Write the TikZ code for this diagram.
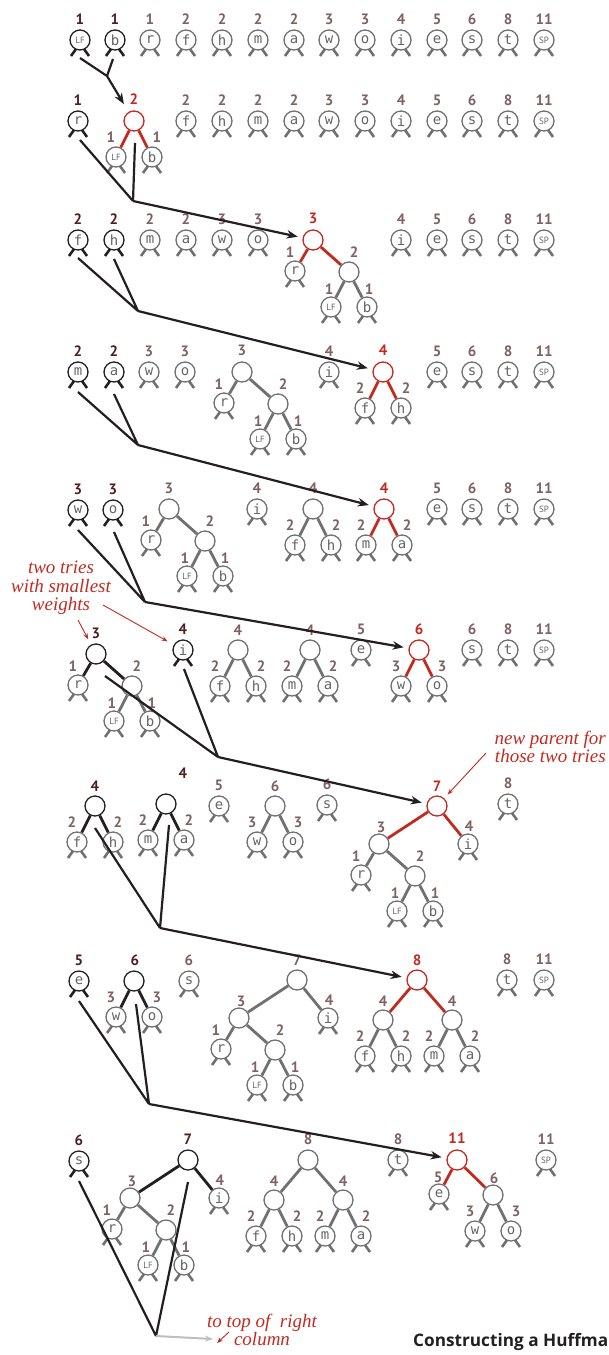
\documentclass[tikz,border=0pt]{standalone}
\usepackage{fontspec}
\setmainfont{Liberation Serif}
\newfontfamily\wfont{PT Sans}
\newfontfamily\tfont{Open Sans}
\newfontfamily\mfont{DejaVu Sans Mono}
\usetikzlibrary{calc,arrows.meta}
\definecolor{cg}{RGB}{112,112,112}
\definecolor{ck}{RGB}{35,31,32}
\definecolor{cr}{RGB}{194,42,32}
\definecolor{wg}{RGB}{128,96,96}
\definecolor{wk}{RGB}{78,30,30}
\definecolor{wr}{RGB}{194,42,32}
\definecolor{tg}{RGB}{100,100,100}
\definecolor{lgray}{RGB}{190,190,190}
\newcounter{wcnt}
\tikzset{
  nd/.style={circle,draw=cg,line width=1.3pt,minimum size=20pt,inner sep=0pt,text=tg,font=\mfont\fontsize{14}{14}\selectfont},
  leg/.style={line width=2.6pt},
  ed/.style={line width=2.8pt},
  wt/.style={inner sep=0pt,font=\wfont\bfseries\fontsize{15}{15}\selectfont},
  conn/.style={draw=ck,line width=2.2pt},
  cnarrow/.style={conn,-{Stealth[length=11pt,width=8.5pt]},shorten >=5pt},
  note/.style={text=cr,font=\itshape\fontsize{19}{18.5}\selectfont,align=center,inner sep=0pt},
  narrow/.style={draw=cr,line width=0.9pt,-{Stealth[length=6pt,width=4.5pt]}},
}
\newcommand\lfl{{\wfont\fontsize{9}{9}\selectfont LF}}
\newcommand\spl{{\wfont\fontsize{9}{9}\selectfont SP}}
\newcommand\lfn[4]{%
  \node[nd,draw=c#4] (#1) at (#2) {#3};
  \draw[leg,draw=c#4] ($(#1)+(-4,9)$) -- ++(-5,7) ($(#1)+(4,9)$) -- ++(5,7);}
\newcommand\inod[3]{\node[nd,draw=c#3] (#1) at (#2) {};}
\newcommand\wgt[3]{\stepcounter{wcnt}\edef\wnm{wt\arabic{wcnt}}%
  \node[wt,text=w#3] (\wnm) at (#1) {#2};}
\newcommand\lw[5]{\lfn{#1}{#2}{#3}{#5}\wgt{$(#1)+(0,-21)$}{#4}{#5}}
\newcommand\ttree[3]{%
  \inod{#1}{#2}{#3}
  \lfn{#1r}{$(#1)+(-18,31)$}{r}{g}
  \inod{#1n}{$(#1)+(36,32)$}{g}
  \lfn{#1l}{$(#1n)+(-18,35)$}{\lfl}{g}
  \lfn{#1b}{$(#1n)+(18,35)$}{b}{g}
  \draw[ed,draw=c#3] (#1)--(#1r) (#1)--(#1n);
  \draw[ed,draw=cg] (#1n)--(#1l) (#1n)--(#1b);
  \wgt{$(#1r)+(-5,-19)$}{1}{g}
  \wgt{$(#1n)+(5,-20)$}{2}{g}
  \wgt{$(#1l)+(-2,-18)$}{1}{g}
  \wgt{$(#1b)+(2,-18)$}{1}{g}}
\newcommand\ptree[6]{%
  \inod{#1}{#2}{#3}
  \lfn{#1l}{$(#1)+(-18,36)$}{#4}{g}
  \lfn{#1r}{$(#1)+(18,36)$}{#5}{g}
  \draw[ed,draw=c#3] (#1)--(#1l) (#1)--(#1r);
  \wgt{$(#1l)+(-5,-20)$}{#6}{g}
  \wgt{$(#1r)+(5,-20)$}{#6}{g}}
\newcommand\stree[3]{%
  \inod{#1}{#2}{#3}
  \ttree{#1t}{$(#1)+(-58,38)$}{g}
  \lfn{#1i}{$(#1)+(31,38)$}{i}{g}
  \draw[ed,draw=c#3] (#1)--(#1t) (#1)--(#1i);
  \wgt{$(#1t)+(2,-17)$}{3}{g}
  \wgt{$(#1i)+(1,-18)$}{4}{g}}
\newcommand\etree[3]{%
  \inod{#1}{#2}{#3}
  \ptree{#1a}{$(#1)+(-34,40)$}{g}{f}{h}{2}
  \ptree{#1b}{$(#1)+(35,40)$}{g}{m}{a}{2}
  \draw[ed,draw=c#3] (#1)--(#1a) (#1)--(#1b);
  \wgt{$(#1a)+(0,-19)$}{4}{g}
  \wgt{$(#1b)+(0,-19)$}{4}{g}}
\newcommand\eltree[3]{%
  \inod{#1}{#2}{#3}
  \lfn{#1e}{$(#1)+(-18,34)$}{e}{g}
  \ptree{#1s}{$(#1)+(36,35)$}{g}{w}{o}{3}
  \draw[ed,draw=c#3] (#1)--(#1e) (#1)--(#1s);
  \wgt{$(#1e)+(-1,-17)$}{5}{g}
  \wgt{$(#1s)+(1,-17)$}{6}{g}}
\begin{document}
\begin{tikzpicture}[x=1pt,y=-1pt]
\useasboundingbox (0,0) rectangle (609,1355);
% ---------- Row 1
\lw{L1}{80,40}{\lfl}{1}{k}
\lw{b1}{115,40}{b}{1}{k}
\lw{r1}{150,40}{r}{1}{g}
\lw{f1}{186,40}{f}{2}{g}
\lw{h1}{222,40}{h}{2}{g}
\lw{m1}{258,40}{m}{2}{g}
\lw{a1}{294,40}{a}{2}{g}
\lw{w1}{329,40}{w}{3}{g}
\lw{o1}{365,40}{o}{3}{g}
\lw{i1}{401,40}{i}{4}{g}
\lw{e1}{437,40}{e}{5}{g}
\lw{s1}{472,40}{s}{6}{g}
\lw{t1}{508,40}{t}{8}{g}
\lw{sp1}{544,40}{\spl}{11}{g}
% ---------- Row 2
\lw{r2}{78,121}{r}{1}{k}
\ptree{R2}{134,121}{r}{\lfl}{b}{1}
\wgt{$(R2)+(0,-22)$}{2}{r}
\lw{f2}{186,121}{f}{2}{g}
\lw{h2}{222,121}{h}{2}{g}
\lw{m2}{258,121}{m}{2}{g}
\lw{a2}{294,121}{a}{2}{g}
\lw{w2}{329,121}{w}{3}{g}
\lw{o2}{365,121}{o}{3}{g}
\lw{i2}{401,121}{i}{4}{g}
\lw{e2}{437,121}{e}{5}{g}
\lw{s2}{472,121}{s}{6}{g}
\lw{t2}{508,121}{t}{8}{g}
\lw{sp2}{544,121}{\spl}{11}{g}
% ---------- Row 3
\lw{f3}{78,240}{f}{2}{k}
\lw{h3}{114,240}{h}{2}{k}
\lw{m3}{150,240}{m}{2}{g}
\lw{a3}{186,240}{a}{2}{g}
\lw{w3}{222,240}{w}{3}{g}
\lw{o3}{258,240}{o}{3}{g}
\ttree{R3}{313,240}{r}
\wgt{$(R3)+(0,-22)$}{3}{r}
\lw{i3}{401,240}{i}{4}{g}
\lw{e3}{437,240}{e}{5}{g}
\lw{s3}{472,240}{s}{6}{g}
\lw{t3}{508,240}{t}{8}{g}
\lw{sp3}{544,240}{\spl}{11}{g}
% ---------- Row 4
\lw{m4}{78,372}{m}{2}{k}
\lw{a4}{114,372}{a}{2}{k}
\lw{w4}{149,372}{w}{3}{g}
\lw{o4}{185,372}{o}{3}{g}
\ttree{T4}{242,372}{g}
\wgt{$(T4)+(0,-22)$}{3}{g}
\lw{i4}{329,372}{i}{4}{g}
\ptree{R4}{383,372}{r}{f}{h}{2}
\wgt{$(R4)+(0,-22)$}{4}{r}
\lw{e4}{437,372}{e}{5}{g}
\lw{s4}{472,372}{s}{6}{g}
\lw{t4}{508,372}{t}{8}{g}
\lw{sp4}{544,372}{\spl}{11}{g}
% ---------- Row 5
\lw{w5}{78,510}{w}{3}{k}
\lw{o5}{113,510}{o}{3}{k}
\ttree{T5}{169,509}{g}
\wgt{$(T5)+(0,-21)$}{3}{g}
\lw{i5}{257,509}{i}{4}{g}
\ptree{P5}{313,509}{g}{f}{h}{2}
\wgt{$(P5)+(0,-21)$}{4}{g}
\ptree{R5}{384,509}{r}{m}{a}{2}
\wgt{$(R5)+(0,-21)$}{4}{r}
\lw{e5}{437,509}{e}{5}{g}
\lw{s5}{472,509}{s}{6}{g}
\lw{t5}{508,509}{t}{8}{g}
\lw{sp5}{544,509}{\spl}{11}{g}
% ---------- Row 6
\ttree{T6}{96,654}{k}
\wgt{$(T6)+(0,-21)$}{3}{k}
\lw{i6}{183,650}{i}{4}{k}
\ptree{P6a}{238,650}{g}{f}{h}{2}
\wgt{$(P6a)+(0,-20)$}{4}{g}
\ptree{P6b}{310,650}{g}{m}{a}{2}
\wgt{$(P6b)+(0,-20)$}{4}{g}
\lw{e6}{361,650}{e}{5}{g}
\ptree{R6}{419,650}{r}{w}{o}{3}
\wgt{$(R6)+(0,-21)$}{6}{r}
\lw{s6}{472,650}{s}{6}{g}
\lw{t6}{508,650}{t}{8}{g}
\lw{sp6}{544,650}{\spl}{11}{g}
% ---------- Row 7
\ptree{P7a}{95,806}{k}{f}{h}{2}
\wgt{$(P7a)+(0,-20)$}{4}{k}
\ptree{P7b}{166,804}{k}{m}{a}{2}
\wgt{183,773}{4}{k}
\lw{e7}{219,806}{e}{5}{g}
\ptree{P7c}{275,806}{g}{w}{o}{3}
\wgt{$(P7c)+(0,-20)$}{6}{g}
\lw{s7}{327,805}{s}{6}{g}
\stree{R7}{437,806}{r}
\wgt{$(R7)+(0,-20)$}{7}{r}
\lw{t7}{508,804}{t}{8}{g}
% ---------- Row 8
\lw{e8}{79,981}{e}{5}{k}
\ptree{P8}{134,981}{k}{w}{o}{3}
\wgt{$(P8)+(1,-21)$}{6}{k}
\lw{s8}{189,981}{s}{6}{g}
\stree{S8}{297,980}{g}
\wgt{$(S8)+(0,-20)$}{7}{g}
\etree{R8}{417,980}{r}
\wgt{$(R8)+(0,-20)$}{8}{r}
\lw{t8}{507,980}{t}{8}{g}
\lw{sp8}{544,980}{\spl}{11}{g}
% ---------- Row 9
\lw{s9}{79,1161}{s}{6}{k}
\stree{S9}{188,1160}{k}
\wgt{$(S9)+(0,-21)$}{7}{k}
\etree{E9}{308,1160}{g}
\wgt{$(E9)+(0,-21)$}{8}{g}
\lw{t9}{398,1160}{t}{8}{g}
\eltree{R9}{457,1160}{r}
\wgt{$(R9)+(0,-22)$}{11}{r}
\lw{sp9}{546,1160}{\spl}{11}{g}
% ---------- connectors
\coordinate (j1) at (107,76);
\draw[conn] ($(L1)+(0,18)$) -- (j1) ($(b1)+(-2,19)$) -- (j1);
\draw[cnarrow,shorten >=9pt] (j1) -- (R2);
\coordinate (j2) at (133,201);
\draw[conn] ($(r2)+(2,19)$) -- (j2) ($(R2)+(1,22)$) -- (j2);
\draw[cnarrow] (j2) -- (R3);
\coordinate (j3) at (138,311);
\draw[conn] ($(f3)+(0,18)$) -- (j3) ($(h3)+(0,19)$) -- (j3);
\draw[cnarrow] (j3) -- (R4);
\coordinate (j4) at (138,445);
\draw[conn] ($(m4)+(0,20)$) -- (j4) ($(a4)+(0,22)$) -- (j4);
\draw[cnarrow] (j4) -- (R5);
\coordinate (j5) at (145,602);
\draw[conn] ($(w5)+(0,20)$) -- (j5) ($(o5)+(1,22)$) -- (j5);
\draw[cnarrow] (j5) -- (R6);
\coordinate (j6) at (218,757);
\draw[conn] ($(T6)+(9,22)$) -- (j6) ($(i6)+(1,19)$) -- (j6);
\draw[cnarrow] (j6) -- (R7);
\coordinate (j7) at (160,928);
\draw[conn] ($(P7a)+(0,22)$) -- (j7) ($(P7b)+(3,21)$) -- (j7);
\draw[cnarrow] (j7) -- (R8);
\coordinate (j8) at (149,1104);
\draw[conn] ($(e8)+(0,20)$) -- (j8) ($(P8)+(2,23)$) -- (j8);
\draw[cnarrow] (j8) -- (R9);
\coordinate (j9) at (156,1336);
\coordinate (g9) at (213,1339);
\draw[conn] ($(s9)+(0,20)$) -- (j9) ($(S9)+(0,22)$) -- (j9);
\draw[draw=lgray,line width=2pt,-{Stealth[length=8pt,width=6pt]}] (j9) -- (g9);
% ---------- annotations
\node[note] (n1) at (61,588) {two tries\\with smallest\\weights};
\coordinate (n1a) at (78,620);
\coordinate (n1b) at (103,605);
\draw[narrow,shorten >=6pt] (n1a) -- (T6);
\draw[narrow,shorten >=7pt] (n1b) -- (i6);
\node[note,align=right,anchor=east] (n2) at (606,747) {new parent for\\those two tries};
\coordinate (n2a) at (486,753);
\draw[narrow,shorten >=5pt] (n2a) -- (R7);
\node[note] (n3) at (262,1330) {to top of\enspace right\\column};
\coordinate (n3a) at (229,1332);
\coordinate (n3b) at (217,1343);
\draw[narrow] (n3a) -- (n3b);
\node[anchor=base west,font=\tfont\bfseries\fontsize{17.2}{17.2}\selectfont,text=ck,inner sep=0pt] (title) at (413,1346) {Constructing a Huffma};
\end{tikzpicture}
\end{document}
